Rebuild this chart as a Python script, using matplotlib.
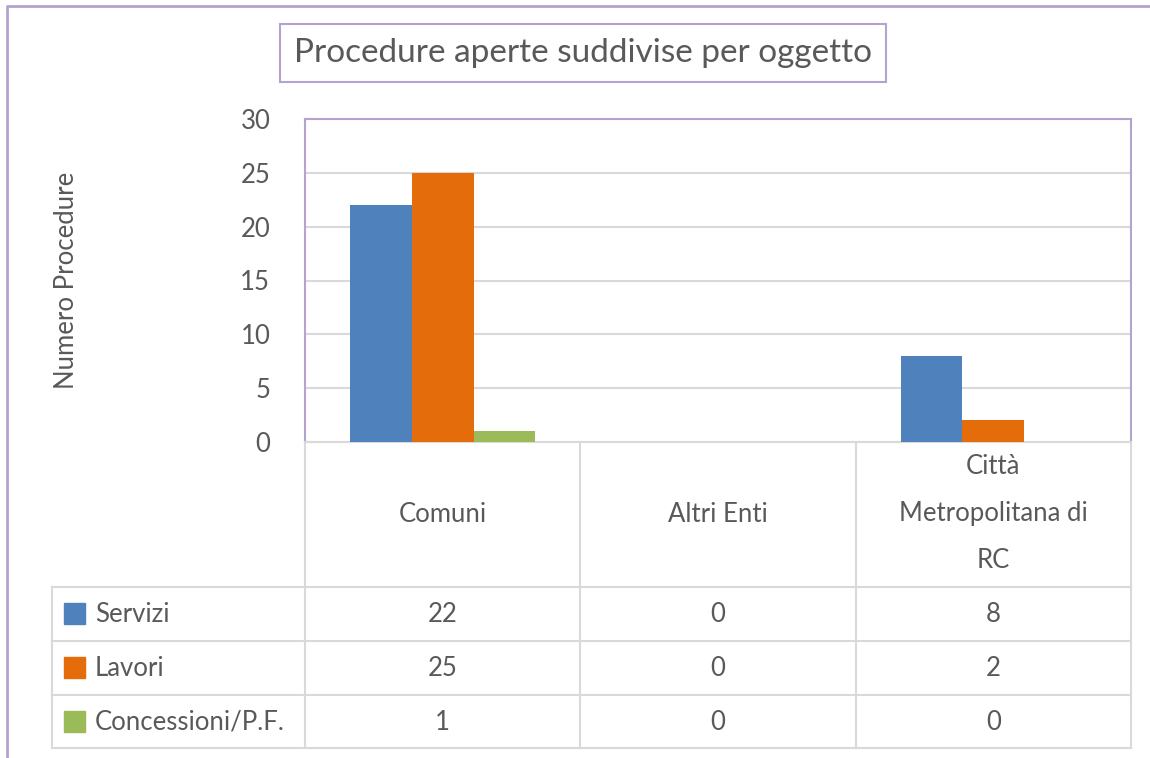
import matplotlib
matplotlib.use("Agg")
import matplotlib.pyplot as plt
import numpy as np

# data
categories = ["Comuni", "Altri Enti", "Città\nMetropolitana di\nRC"]
series_names = ["Servizi", "Lavori", "Concessioni/P.F."]
servizi = [22, 0, 8]
lavori = [25, 0, 2]
concessioni = [1, 0, 0]
series_values = [servizi, lavori, concessioni]
colors = ["#4f81bd", "#e46c0a", "#9bbb59"]

title = "Procedure aperte suddivise per oggetto"
ylabel = "Numero Procedure"

plt.rcParams['font.family'] = ['Lato', 'DejaVu Sans']
txt = "#595959"
purple = "#b4a2cf"
grid = "#d9d9d9"
fs = 18.5

W, H = 1150, 758
fig = plt.figure(figsize=(W / 100, H / 100), dpi=100)

# overlay in pixel coords for border, title box and table
ov = fig.add_axes([0, 0, 1, 1])
ov.set_xlim(0, W)
ov.set_ylim(H, 0)
ov.axis("off")
ov.plot([7, 7, W + 5], [H + 5, 6, 6], color=purple, lw=2)

ov.text(583, 53, title, ha="center", va="center", fontsize=24, color=txt,
        bbox=dict(boxstyle="square,pad=0.42", fc="white", ec=purple, lw=1.5))

# bar axes
x0, x1, y0, y1 = 305, 1131, 119, 442
ax = fig.add_axes([x0 / W, (H - y1) / H, (x1 - x0) / W, (y1 - y0) / H])
x = np.arange(len(categories))
bw = 0.224
for i, (name, vals, c) in enumerate(zip(series_names, series_values, colors)):
    ax.bar(x + (i - 1) * bw, vals, width=bw, color=c, label=name, zorder=3)
ax.set_xlim(-0.5, len(categories) - 0.5)
ax.set_ylim(0, 30)
ax.set_yticks(range(0, 31, 5))
ax.set_xticks([])
ax.tick_params(axis="y", length=0, labelsize=fs, labelcolor=txt, pad=25)
ax.grid(axis="y", color=grid, lw=1.5, zorder=0)
for s in ["top", "left", "right"]:
    ax.spines[s].set_color(purple)
    ax.spines[s].set_linewidth(1.5)
ax.spines["bottom"].set_color(grid)
ax.spines["bottom"].set_linewidth(1.5)
ax.set_ylabel(ylabel, fontsize=fs, color=txt)
ax.yaxis.set_label_coords((79 - x0) / (x1 - x0), 0.5)

# data table
cols = [x0 + (x1 - x0) * k / len(categories) for k in range(len(categories) + 1)]
rows = [587, 641, 695, 748]
lw = 1.5
for cx in cols:
    ov.plot([cx, cx], [y1, rows[-1]], color=grid, lw=lw)
ov.plot([52, 52], [rows[0], rows[-1]], color=grid, lw=lw)
for ry in rows:
    ov.plot([52, x1], [ry, ry], color=grid, lw=lw)

for k, cat in enumerate(categories):
    cx = (cols[k] + cols[k + 1]) / 2
    ov.text(cx, 514, cat, ha="center", va="center", fontsize=fs, color=txt,
            linespacing=2.1)

for r, (name, vals, c) in enumerate(zip(series_names, series_values, colors)):
    cy = rows[r] + 27
    ov.add_patch(plt.Rectangle((64, cy - 11), 21, 21, color=c))
    ov.text(95, cy, name, ha="left", va="center", fontsize=fs, color=txt)
    for k, v in enumerate(vals):
        cx = (cols[k] + cols[k + 1]) / 2
        ov.text(cx, cy, str(v), ha="center", va="center", fontsize=fs, color=txt)

fig.savefig("out.png", dpi=100)
